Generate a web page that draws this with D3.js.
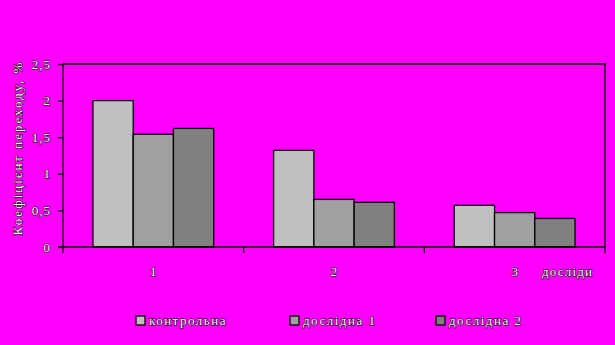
<!DOCTYPE html>
<html>
<head>
<meta charset="utf-8">
<script src="https://cdn.jsdelivr.net/npm/d3@7"></script>
<style>
  body { margin: 0; background: #ff00ff; }
  text { font-family: "Liberation Serif", "Times New Roman", serif; font-size: 13px; fill: #fff; stroke: #000; stroke-width: 1.1px; paint-order: stroke; }
</style>
</head>
<body>
<div class="chart"></div>
<script>
const groups = ["1", "2", "3"];
const seriesNames = ["контрольна", "дослідна 1", "дослідна 2"];
const kontrolna = [2.0, 1.32, 0.57];
const doslidna1 = [1.54, 0.65, 0.47];
const doslidna2 = [1.62, 0.61, 0.39];
const yTicks = [0, 0.5, 1, 1.5, 2, 2.5];
const colors = ["#c0c0c0", "#a0a0a0", "#808080"];

const seriesValues = [kontrolna, doslidna1, doslidna2];
const data = groups.map((g, i) => ({
  group: g,
  values: seriesNames.map((s, j) => ({ series: s, value: seriesValues[j][i] })),
}));

const svg = d3.select(".chart")
  .append("svg")
  .attr("width", 615)
  .attr("height", 345)
  .style("display", "block")
  .style("background", "#ff00ff");

// plot box
const plotLeft = 63, plotRight = 605, plotTop = 64, plotBottom = 247;

const x0 = d3.scaleBand().domain(groups).range([plotLeft, plotRight]);
const x1 = d3.scaleBand()
  .domain(seriesNames)
  .range([0, x0.bandwidth()])
  .paddingOuter(0.744);
const y = d3.scaleLinear().domain([0, 2.5]).range([plotBottom, plotTop]);
const color = d3.scaleOrdinal().domain(seriesNames).range(colors);

// top and right border
svg.append("path")
  .attr("d", `M${plotLeft},${plotTop}H${plotRight}V${plotBottom}`)
  .attr("fill", "none")
  .attr("stroke", "#000")
  .attr("stroke-width", 1.3);

// bars
svg.append("g")
  .selectAll("g")
  .data(data)
  .join("g")
  .attr("transform", (d) => `translate(${x0(d.group)},0)`)
  .selectAll("rect")
  .data((d) => d.values)
  .join("rect")
  .attr("x", (d) => x1(d.series))
  .attr("y", (d) => y(d.value))
  .attr("width", x1.bandwidth())
  .attr("height", (d) => plotBottom - y(d.value))
  .attr("fill", (d) => color(d.series))
  .attr("stroke", "#000")
  .attr("stroke-width", 1.3);

// y axis
const fmt = (d) => String(d).replace(".", ",");
const yAxis = svg.append("g")
  .attr("transform", `translate(${plotLeft},0)`)
  .call(d3.axisLeft(y).tickValues(yTicks).tickSize(5).tickPadding(7).tickFormat(fmt));
yAxis.selectAll("line, path").attr("stroke", "#000").attr("stroke-width", 1.3);
yAxis.select(".domain").attr("d", `M0,${plotTop}V${plotBottom}`);
yAxis.selectAll("text").attr("fill", null).style("letter-spacing", "1px");
yAxis.attr("font-size", null).attr("font-family", null);

// x axis line + ticks between groups
const xAxisG = svg.append("g");
xAxisG.append("line")
  .attr("x1", plotLeft - 5).attr("x2", plotRight)
  .attr("y1", plotBottom).attr("y2", plotBottom)
  .attr("stroke", "#000").attr("stroke-width", 1.3);
xAxisG.selectAll(".sep")
  .data(groups.map((g) => x0(g)).concat([plotRight]))
  .join("line")
  .attr("class", "sep")
  .attr("x1", (d) => d).attr("x2", (d) => d)
  .attr("y1", plotBottom).attr("y2", plotBottom + 6)
  .attr("stroke", "#000").attr("stroke-width", 1.3);
xAxisG.selectAll(".lbl")
  .data(groups)
  .join("text")
  .attr("class", "lbl")
  .attr("x", (d) => x0(d) + x0.bandwidth() / 2)
  .attr("y", 276)
  .attr("text-anchor", "middle")
  .text((d) => d);

svg.append("text")
  .attr("x", 542)
  .attr("y", 276)
  .style("letter-spacing", "1.2px")
  .text("досліди");

// y title
svg.append("text")
  .attr("transform", "translate(22,148) rotate(-90)")
  .attr("text-anchor", "middle")
  .style("letter-spacing", "2px")
  .text("Коефіцієнт переходу, %");

// legend
const legendX = [136, 290, 436];
const legend = svg.append("g")
  .selectAll("g")
  .data(seriesNames)
  .join("g")
  .attr("transform", (d, i) => `translate(${legendX[i]},316)`);
legend.append("rect")
  .attr("width", 9).attr("height", 9)
  .attr("fill", (d) => color(d))
  .attr("stroke", "#000").attr("stroke-width", 1.3);
legend.append("text")
  .attr("x", 13)
  .attr("y", 9)
  .style("letter-spacing", "1.5px")
  .text((d) => d);
</script>
</body>
</html>
